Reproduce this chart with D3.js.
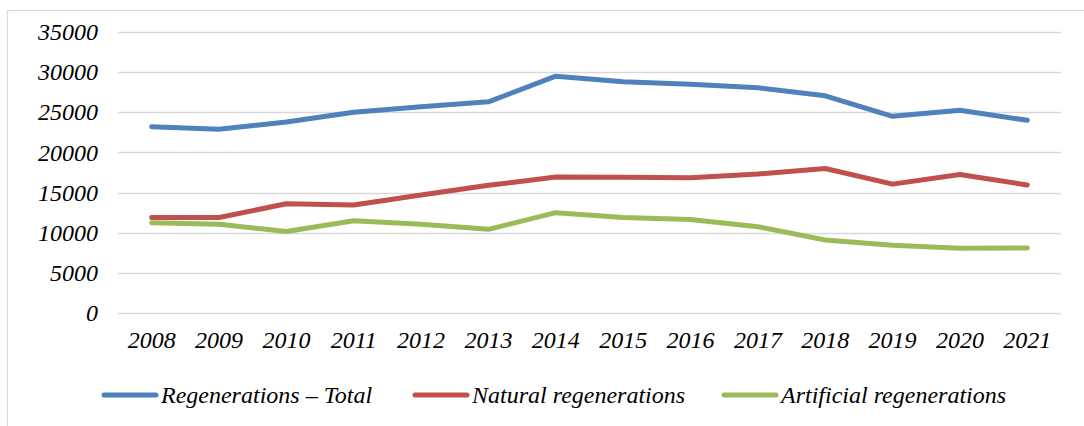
<!DOCTYPE html>
<html><head><meta charset="utf-8">
<script src="https://cdn.jsdelivr.net/npm/d3@7"></script>
<style>
html,body{margin:0;padding:0;background:#fff;}
svg{display:block;}
</style></head>
<body>
<svg id="chart" width="1084" height="426"></svg>
<script>
const years = ["2008","2009","2010","2011","2012","2013","2014","2015","2016","2017","2018","2019","2020","2021"];
const totalValues = [23200,22900,23800,25000,25700,26300,29500,28800,28500,28050,27050,24500,25250,24000];
const naturalValues = [11900,11900,13600,13450,14700,15900,16950,16900,16850,17300,18000,16050,17250,15950];
const artificialValues = [11250,11050,10150,11500,11050,10420,12500,11900,11650,10750,9100,8450,8050,8100];
const seriesNames = ["Regenerations – Total","Natural regenerations","Artificial regenerations"];
const seriesColors = ["#4F81BD","#C0504D","#9BBB59"];
const yTicks = [0,5000,10000,15000,20000,25000,30000,35000];

(function(){
const FONT = "'Liberation Serif', 'Times New Roman', 'DejaVu Serif', serif";
const series = [totalValues, naturalValues, artificialValues];
const svg = d3.select("#chart");

// outer chart border (cropped at right/bottom)
svg.append("rect").attr("x",7.5).attr("y",10.5).attr("width",1200).attr("height",600)
  .attr("fill","none").attr("stroke","#d9d9d9").attr("stroke-width",1.2);

const pL = 118, pR = 1061, pT = 32, pB = 313;
const x = d3.scaleBand().domain(years).range([pL,pR]);
const y = d3.scaleLinear().domain([0,35000]).range([pB,pT]);

// gridlines
svg.append("g").selectAll("line").data(yTicks).join("line")
  .attr("x1",pL).attr("x2",pR)
  .attr("y1",d=>Math.round(y(d))+0.5).attr("y2",d=>Math.round(y(d))+0.5)
  .attr("stroke","#d9d9d9").attr("stroke-width",1.5);

function styleText(sel){
  sel.attr("font-family",FONT).attr("font-style","italic").attr("font-size","24px").attr("fill","#000");
}

// y labels
const yAxis = d3.axisLeft(y).tickValues(yTicks).tickSize(0).tickPadding(20).tickFormat(d3.format("d"));
const gy = svg.append("g").attr("transform",`translate(${pL},0)`).call(yAxis);
gy.select(".domain").remove();
styleText(gy);
gy.selectAll("text").attr("dy","0.32em").call(styleText);

// x labels
const xAxis = d3.axisBottom(x).tickSize(0).tickPadding(18);
const gx = svg.append("g").attr("transform",`translate(0,${pB})`).call(xAxis);
gx.select(".domain").remove();
styleText(gx);
gx.selectAll("text").attr("dy","0.71em").call(styleText);

// lines
const line = d3.line().x((d,i)=>x(years[i])+x.bandwidth()/2).y(d=>y(d));
series.forEach((vals,k)=>{
  svg.append("path").datum(vals).attr("d",line)
    .attr("fill","none").attr("stroke",seriesColors[k]).attr("stroke-width",5)
    .attr("stroke-linejoin","round").attr("stroke-linecap","round");
});

// legend
const legY = 395;
const legX = [104, 415, 724];
seriesNames.forEach((name,k)=>{
  const g = svg.append("g").attr("transform",`translate(${legX[k]},${legY})`);
  g.append("line").attr("x1",0).attr("x2",52).attr("y1",0).attr("y2",0)
    .attr("stroke",seriesColors[k]).attr("stroke-width",5).attr("stroke-linecap","round");
  g.append("text").attr("x",57).attr("y",0).attr("dy","0.32em").call(styleText).text(name);
});
})();
</script>
</body></html>
